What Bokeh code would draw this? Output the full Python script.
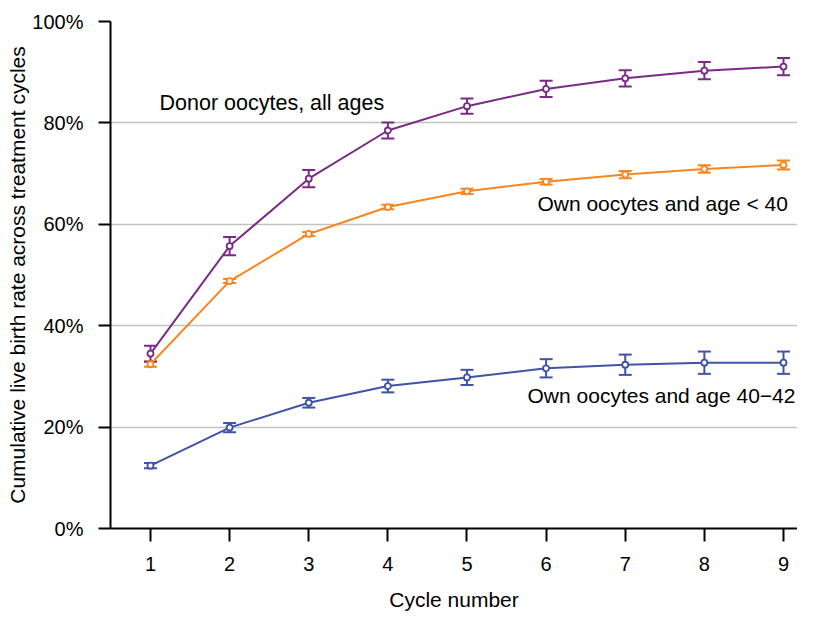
from bokeh.plotting import figure
from bokeh.models import (ColumnDataSource, Whisker, TeeHead, FixedTicker,
                          PrintfTickFormatter, Range1d, Label)
from bokeh.embed import file_html
from bokeh.resources import INLINE

cycles = [1, 2, 3, 4, 5, 6, 7, 8, 9]
donor = [34.5, 55.7, 69.0, 78.5, 83.3, 86.7, 88.8, 90.3, 91.1]
donor_err = [1.55, 1.8, 1.7, 1.6, 1.5, 1.6, 1.6, 1.7, 1.7]
own_lt40 = [32.4, 48.8, 58.1, 63.4, 66.5, 68.4, 69.8, 70.9, 71.7]
own_lt40_err = [0.5, 0.4, 0.4, 0.45, 0.5, 0.55, 0.7, 0.75, 0.9]
own_40_42 = [12.4, 19.9, 24.8, 28.1, 29.8, 31.6, 32.3, 32.7, 32.7]
own_40_42_err = [0.5, 0.9, 0.95, 1.25, 1.5, 1.8, 2.0, 2.2, 2.2]

y_ticks = [0, 20, 40, 60, 80, 100]
series_labels = ["Donor oocytes, all ages", "Own oocytes and age < 40",
                 "Own oocytes and age 40\u221242"]

FONT = "Liberation Sans"

p = figure(width=797, height=615, output_backend="svg", toolbar_location=None,
           x_range=Range1d(0.4945, 9.177), y_range=Range1d(0, 100),
           min_border_left=110, min_border_top=21, min_border_right=0,
           min_border_bottom=87)
p.outline_line_color = None
p.background_fill_color = "white"
p.border_fill_color = "white"

# grid
p.xgrid.grid_line_color = None
p.ygrid.grid_line_color = "#c2c2c2"
p.ygrid.grid_line_width = 1.6
p.ygrid.ticker = FixedTicker(ticks=y_ticks)

# axes
for ax in (p.xaxis[0], p.yaxis[0]):
    ax.axis_line_width = 2
    ax.axis_line_color = "black"
    ax.major_tick_line_width = 2
    ax.major_tick_line_color = "black"
    ax.major_tick_in = 0
    ax.minor_tick_line_color = None
    ax.major_label_text_font = FONT
    ax.major_label_text_font_size = "20px"
    ax.major_label_text_color = "black"
    ax.axis_label_text_font = FONT
    ax.axis_label_text_font_size = "21px"
    ax.axis_label_text_font_style = "normal"
    ax.axis_label_text_color = "black"

p.yaxis.ticker = FixedTicker(ticks=y_ticks)
p.yaxis.formatter = PrintfTickFormatter(format="%d%%")
p.yaxis.major_tick_out = 12
p.yaxis.major_label_standoff = 15
p.yaxis.axis_label = "Cumulative live birth rate across treatment cycles"
p.yaxis.axis_label_standoff = 0

p.xaxis.ticker = FixedTicker(ticks=cycles)
p.xaxis.major_tick_out = 13
p.xaxis.major_label_standoff = 15
p.xaxis.axis_label = "Cycle number"
p.xaxis.axis_label_standoff = 14

series = [
    (own_40_42, own_40_42_err, "#3f54a6"),
    (own_lt40, own_lt40_err, "#f7861f"),
    (donor, donor_err, "#7b2a86"),
]

for vals, errs, col in series:
    src = ColumnDataSource(dict(
        x=cycles, y=vals,
        lower=[v - e for v, e in zip(vals, errs)],
        upper=[v + e for v, e in zip(vals, errs)],
    ))
    p.line("x", "y", source=src, line_color=col, line_width=2)
    w = Whisker(source=src, base="x", lower="lower", upper="upper",
                line_color=col, line_width=2,
                upper_head=TeeHead(size=13, line_color=col, line_width=2),
                lower_head=TeeHead(size=13, line_color=col, line_width=2))
    p.add_layout(w)
    p.scatter("x", "y", source=src, marker="circle", size=6,
              fill_color="white", line_color=col, line_width=1.8)

label_pos = [(1.114, 84.0), (5.890, 64.1), (5.765, 26.2)]
label_sizes = ["21.5px", "21px", "21px"]
for txt, (lx, ly), fs in zip(series_labels, label_pos, label_sizes):
    p.add_layout(Label(x=lx, y=ly, text=txt, text_font=FONT,
                       text_font_size=fs, text_color="black",
                       text_baseline="middle", text_align="left"))

open("out.html", "w").write(file_html(p, INLINE))
